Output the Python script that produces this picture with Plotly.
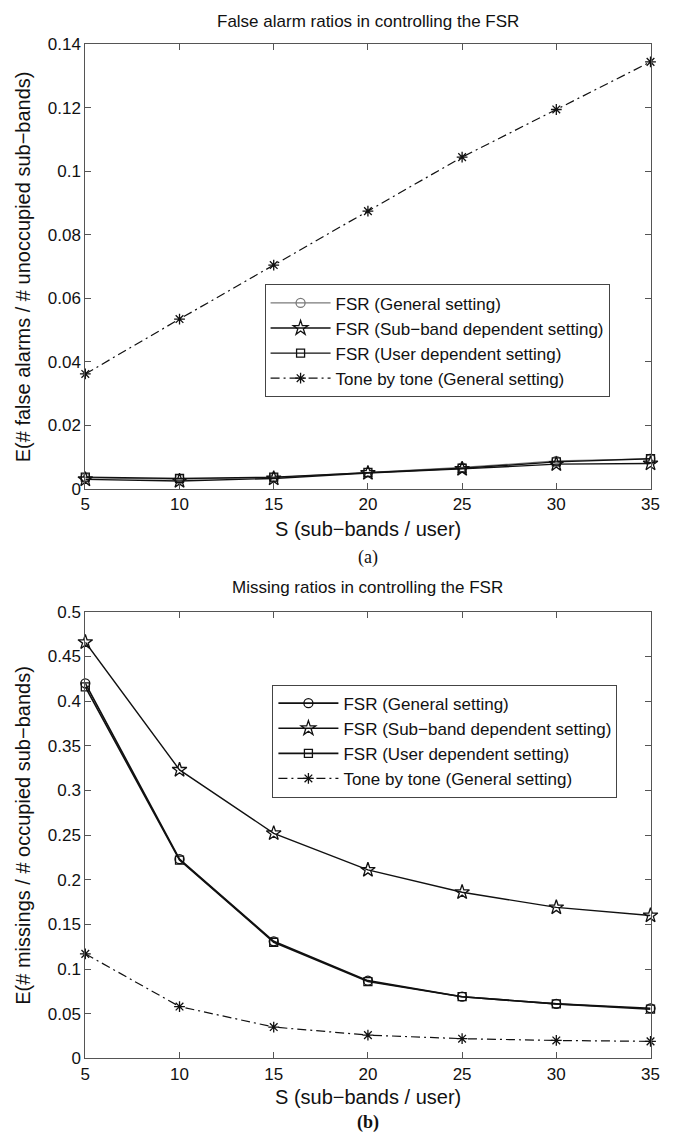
import plotly.graph_objects as go

# ---- data ----
S = [5, 10, 15, 20, 25, 30, 35]

# (a) false alarm ratios
fa_general = [0.0035, 0.0031, 0.0036, 0.0051, 0.0068, 0.0088, 0.0095]
fa_subband = [0.0030, 0.0025, 0.0033, 0.0050, 0.0063, 0.0078, 0.0080]
fa_user = [0.0037, 0.0033, 0.0037, 0.0052, 0.0065, 0.0085, 0.0095]
fa_tone = [0.0362, 0.0535, 0.0705, 0.0875, 0.1045, 0.1195, 0.1345]

# (b) missing ratios
ms_general = [0.420, 0.223, 0.131, 0.087, 0.069, 0.061, 0.056]
ms_subband = [0.466, 0.323, 0.252, 0.211, 0.186, 0.169, 0.160]
ms_user = [0.416, 0.222, 0.130, 0.086, 0.069, 0.061, 0.055]
ms_tone = [0.117, 0.058, 0.035, 0.026, 0.022, 0.020, 0.019]

names = ["FSR (General setting)",
         "FSR (Sub\u2212band dependent setting)",
         "FSR (User dependent setting)",
         "Tone by tone (General setting)"]

fa_ticks = [0, 0.02, 0.04, 0.06, 0.08, 0.1, 0.12, 0.14]
fa_ticktext = ["0", "0.02", "0.04", "0.06", "0.08", "0.1", "0.12", "0.14"]
ms_ticks = [0, 0.05, 0.1, 0.15, 0.2, 0.25, 0.3, 0.35, 0.4, 0.45, 0.5]
ms_ticktext = ["0", "0.05", "0.1", "0.15", "0.2", "0.25", "0.3", "0.35", "0.4", "0.45", "0.5"]

# ---- geometry (pixels) ----
W, H = 684, 1147
X0, X1 = 82, 659
TOP = (36, 488)
BOT = (613, 1067)


def py(p):
    return 1 - p / H


FONT = "Liberation Sans, Arial, Helvetica, sans-serif"
SERIF = "Liberation Serif, Times New Roman, serif"
DASHDOT = "9px,4px,2px,4px"

fig = go.Figure()

styles = [
    dict(symbol="circle-open", size=9),
    dict(symbol="star-open", size=11),
    dict(symbol="square-open", size=8),
    dict(symbol="asterisk-open", size=9),
]


def add_panel(series, colors, widths, xa, ya, legend):
    for i, (ys, nm) in enumerate(zip(series, names)):
        dash = DASHDOT if i == 3 else "solid"
        fig.add_trace(go.Scatter(
            x=S, y=ys, name=nm, mode="lines+markers",
            xaxis=xa, yaxis=ya, legend=legend, cliponaxis=False,
            line=dict(color=colors[i], width=widths[i], dash=dash),
            marker=dict(symbol=styles[i]["symbol"], size=styles[i]["size"],
                        color=colors[i], line=dict(color=colors[i], width=1.3)),
        ))


add_panel([fa_general, fa_subband, fa_user, fa_tone],
          ["#7a7a7a", "#111111", "#111111", "#111111"],
          [1.2, 1.4, 1.4, 1.2], "x", "y", "legend")
add_panel([ms_general, ms_subband, ms_user, ms_tone],
          ["#111111", "#111111", "#111111", "#111111"],
          [1.6, 1.4, 1.6, 1.2], "x2", "y2", "legend2")

axis_common = dict(
    showline=True, linecolor="#555555", linewidth=1, mirror="ticks",
    ticks="inside", ticklen=6, tickcolor="#555555", tickwidth=1,
    showgrid=False, zeroline=False,
    tickfont=dict(family=FONT, size=17, color="#111111"),
)

xdom = [X0 / W, X1 / W]

legend_common = dict(
    bgcolor="white", bordercolor="#444444", borderwidth=1,
    font=dict(family=FONT, size=17, color="#111111"),
    xanchor="left", yanchor="top", itemwidth=60,
    tracegroupgap=0,
)

fig.update_layout(
    width=W, height=H,
    margin=dict(l=0, r=0, t=0, b=0),
    paper_bgcolor="white", plot_bgcolor="white",
    xaxis=dict(domain=xdom, anchor="y", range=[5, 35],
               tickvals=S, ticktext=[str(v) for v in S], **axis_common),
    yaxis=dict(domain=[py(TOP[1]), py(TOP[0])], anchor="x", range=[0, 0.14],
               tickvals=fa_ticks, ticktext=fa_ticktext, **axis_common),
    xaxis2=dict(domain=xdom, anchor="y2", range=[5, 35],
                tickvals=S, ticktext=[str(v) for v in S], **axis_common),
    yaxis2=dict(domain=[py(BOT[1]), py(BOT[0])], anchor="x2", range=[0, 0.5],
                tickvals=ms_ticks, ticktext=ms_ticktext, **axis_common),
    legend=dict(x=265 / W, y=py(280), **legend_common),
    legend2=dict(x=273 / W, y=py(687), **legend_common),
    showlegend=True,
)

anns = [
    dict(text="False alarm ratios in controlling the FSR", x=(X0 + X1) / 2 / W, y=py(13),
         font=dict(family=FONT, size=17)),
    dict(text="S (sub\u2212bands / user)", x=(X0 + X1) / 2 / W, y=py(529),
         font=dict(family=FONT, size=20)),
    dict(text="(a)", x=(X0 + X1) / 2 / W, y=py(558),
         font=dict(family=SERIF, size=18)),
    dict(text="E(# false alarms / # unoccupied sub\u2212bands)", x=18 / W, y=py((TOP[0] + TOP[1]) / 2),
         textangle=-90, font=dict(family=FONT, size=20)),
    dict(text="Missing ratios in controlling the FSR", x=(X0 + X1) / 2 / W, y=py(588),
         font=dict(family=FONT, size=17)),
    dict(text="S (sub\u2212bands / user)", x=(X0 + X1) / 2 / W, y=py(1106),
         font=dict(family=FONT, size=20)),
    dict(text="<b>(b)</b>", x=(X0 + X1) / 2 / W, y=py(1132),
         font=dict(family=SERIF, size=18)),
    dict(text="E(# missings / # occupied sub\u2212bands)", x=18 / W, y=py((BOT[0] + BOT[1]) / 2),
         textangle=-90, font=dict(family=FONT, size=20)),
]
for a in anns:
    a.setdefault("font", {})
    a["font"].setdefault("color", "#111111")
    fig.add_annotation(xref="paper", yref="paper", showarrow=False,
                       xanchor="center", yanchor="middle", **a)

fig.write_html("out.html")
